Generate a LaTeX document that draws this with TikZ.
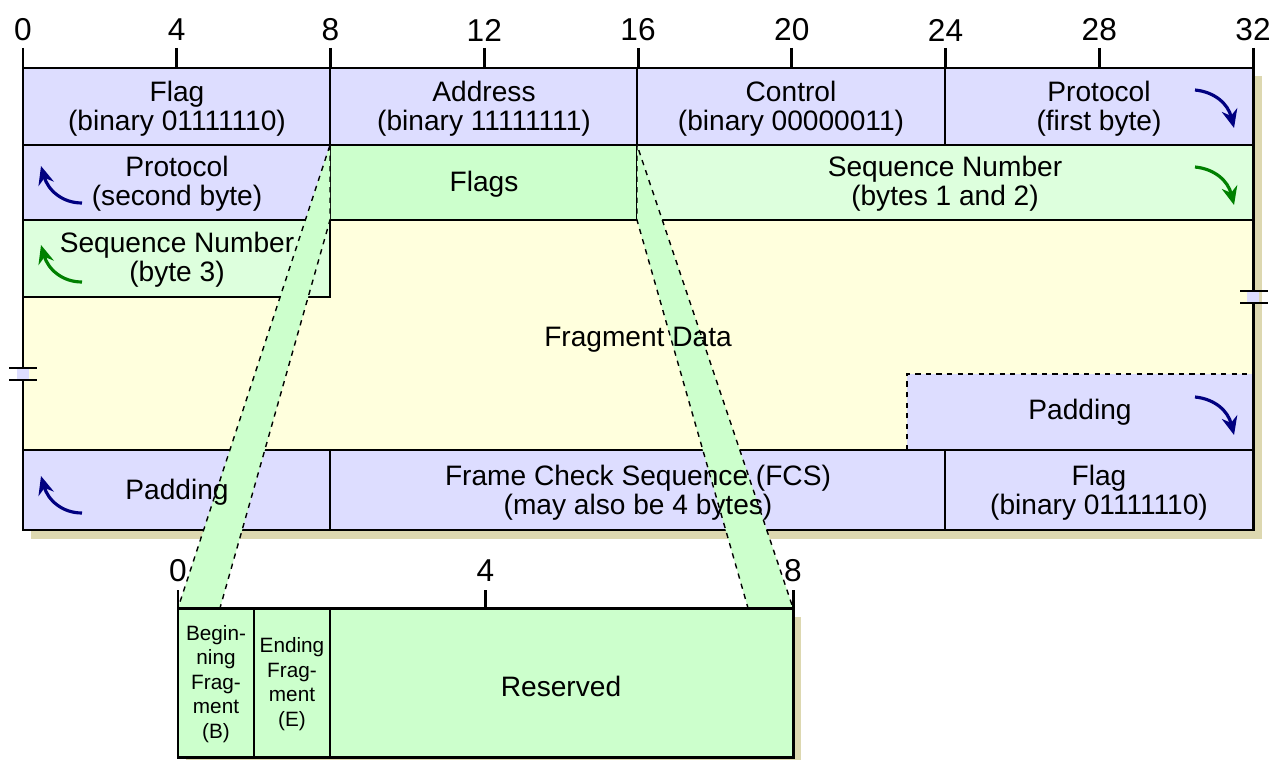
\documentclass[tikz,border=0pt]{standalone}
\usepackage{fontspec}
\setmainfont{Liberation Sans}
\usetikzlibrary{arrows.meta}

\definecolor{fieldblue}{RGB}{221,221,255}
\definecolor{seqgreen}{RGB}{221,255,221}
\definecolor{flagsgreen}{RGB}{204,255,204}
\definecolor{datayellow}{RGB}{255,255,221}
\definecolor{shadowkhaki}{RGB}{221,216,176}
\definecolor{arrowblue}{RGB}{0,0,128}
\definecolor{arrowgreen}{RGB}{0,128,0}

\tikzset{
  fieldtext/.style={align=center, font=\fontsize{16}{16.5}\selectfont},
  smalltext/.style={align=center, font=\fontsize{11.8}{14}\selectfont},
  bitnum/.style={font=\fontsize{18}{18}\selectfont},
  frameline/.style={line width=1.7pt},
  sepline/.style={line width=0.85pt},
  band/.style={fill=flagsgreen, draw, dashed, line width=0.8pt},
  turnarrow/.style={line width=1.8pt, -{Stealth[length=10.5pt,width=9pt]}},
}

\begin{document}
\begin{tikzpicture}[x=0.02cm, y=-0.02cm]
\useasboundingbox (0,0) rectangle (1280,760);

%% 影
\fill[shadowkhaki] (31,76) rectangle (1262,539);
\fill[shadowkhaki] (186,617) rectangle (801,760);

%% 色塗り
\fill[fieldblue] (23,68) rectangle (1253,145);
\fill[fieldblue] (23,145) rectangle (330,220);
\fill[flagsgreen] (330,145) rectangle (637,220);
\fill[seqgreen] (637,145) rectangle (1253,220);
\fill[datayellow] (23,220) rectangle (1253,450);
\fill[seqgreen] (23,220) rectangle (330,297);
\fill[fieldblue] (907,374) rectangle (1253,450);
\fill[fieldblue] (23,450) rectangle (1253,530);

%% 線
\draw[sepline] (23,145) -- (1253,145);
\draw[sepline] (23,220) -- (1253,220);
\draw[sepline] (23,450) -- (1253,450);
\draw[sepline] (330,68) -- (330,297) -- (23,297);
\draw[sepline] (637,68) -- (637,220);
\draw[sepline] (945,68) -- (945,145);
\draw[sepline] (330,450) -- (330,530);
\draw[sepline] (945,450) -- (945,530);
\draw[sepline, dashed] (907,450) -- (907,374) -- (1253,374);
\draw[frameline] (23,68) rectangle (1253,530);

%% 途切れ
\fill[fieldblue] (17,369) rectangle (29,379);
\draw[frameline] (9,368) -- (37,368);
\draw[frameline] (9,380) -- (37,380);
\fill[fieldblue] (1247,292) rectangle (1259,302);
\draw[frameline] (1240,291) -- (1268,291);
\draw[frameline] (1240,303) -- (1268,303);

%% 拡大
\draw[band] (330,145) -- (330,220) -- (220,608) -- (178,608) -- cycle;
\draw[band] (637,145) -- (637,220) -- (748,608) -- (793,608) -- cycle;

%% 下の枠
\fill[flagsgreen] (178,608) rectangle (793,757);
\draw[sepline] (254,608) -- (254,757);
\draw[sepline] (330,608) -- (330,757);
\draw[frameline] (178,608) rectangle (793,757);

%% 目盛り
\foreach \b in {0,4,...,32} {
  \draw[frameline] ({23+\b*38.4375},48) -- ({23+\b*38.4375},68);
  \node[bitnum] (top\b) at ({23+\b*38.4375},30) {\b};
}
\foreach \b in {0,4,8} {
  \draw[frameline] ({178+\b*76.875},590) -- ({178+\b*76.875},608);
  \node[bitnum] (sub\b) at ({178+\b*76.875},571) {\b};
}

%% 文字
\node[fieldtext] (flag1) at (177,109) {Flag\\(binary 01111110)};
\node[fieldtext] (addr) at (484,109) {Address\\(binary 11111111)};
\node[fieldtext] (ctrl) at (791,109) {Control\\(binary 00000011)};
\node[fieldtext] (proto1) at (1099,109) {Protocol\\(first byte)};
\node[fieldtext] (proto2) at (177,184) {Protocol\\(second byte)};
\node[fieldtext] (flags) at (484,184) {Flags};
\node[fieldtext] (seq1) at (945,184) {Sequence Number\\(bytes 1 and 2)};
\node[fieldtext] (seq2) at (177,260) {Sequence Number\\(byte 3)};
\node[fieldtext] (data) at (638,340) {Fragment Data};
\node[fieldtext] (pad1) at (1080,412) {Padding};
\node[fieldtext] (pad2) at (177,492) {Padding};
\node[fieldtext] (fcs) at (638,493) {Frame Check Sequence (FCS)\\(may also be 4 bytes)};
\node[fieldtext] (flag2) at (1099,493) {Flag\\(binary 01111110)};

\node[smalltext] (bflag) at (216,684) {Begin-\\ning\\Frag-\\ment\\(B)};
\node[smalltext] (eflag) at (292,684) {Ending\\Frag-\\ment\\(E)};
\node[fieldtext] (resv) at (561,686) {Reserved};

%% 矢印
\draw[turnarrow, arrowblue] (1195,90) .. controls (1215,92) and (1228,104) .. (1234,128);
\draw[turnarrow, arrowgreen] (1195,167) .. controls (1215,169) and (1228,181) .. (1234,205);
\draw[turnarrow, arrowblue] (1195,397) .. controls (1215,399) and (1228,411) .. (1234,435);
\draw[turnarrow, arrowblue] (82,203) .. controls (62,203) and (48,190) .. (41,166);
\draw[turnarrow, arrowgreen] (82,282) .. controls (62,282) and (48,269) .. (41,245);
\draw[turnarrow, arrowblue] (82,513) .. controls (62,513) and (48,500) .. (41,476);

\end{tikzpicture}
\end{document}
